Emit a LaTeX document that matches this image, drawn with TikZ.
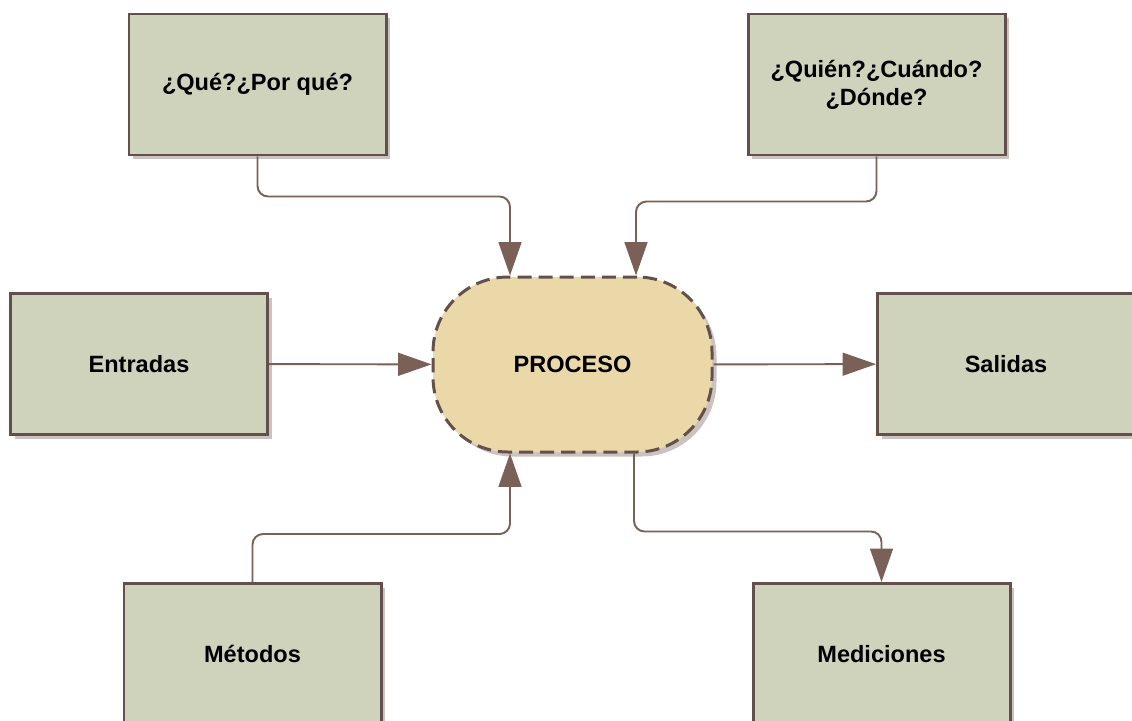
\documentclass[tikz,border=0pt]{standalone}
\usepackage{fontspec}
\setmainfont{Liberation Sans}
\usetikzlibrary{arrows.meta,shadows}
\definecolor{boxfill}{HTML}{D0D3BC}
\definecolor{boxline}{HTML}{64504A}
\definecolor{linkcol}{HTML}{7A6056}
\definecolor{procfill}{HTML}{EBD8A9}
\definecolor{shadowcol}{HTML}{CBC3BF}
\begin{document}
\begin{tikzpicture}[
  block/.style={rectangle,draw=boxline,fill=boxfill,line width=1.7pt,
                minimum width=5.14cm,minimum height=2.82cm,align=center,
                general shadow={fill=shadowcol,shadow xshift=0.08cm,shadow yshift=-0.08cm}},
  process/.style={rectangle,draw=boxline,fill=procfill,line width=1.7pt,
                  dash pattern=on 8pt off 4pt,rounded corners=1.5cm,
                  minimum width=5.58cm,minimum height=3.5cm,
                  general shadow={fill=shadowcol,shadow xshift=0.09cm,shadow yshift=-0.09cm}},
  link/.style={draw=linkcol,line width=1.1pt,rounded corners=6pt,
               -{Triangle[length=19pt,width=13pt]}},
  every node/.style={font=\fontsize{13.4}{15.9}\selectfont\bfseries}]
\path[use as bounding box] (0,0) rectangle (22.64,-14.4);
\node[block] (que) at (5.15,-1.69) {¿Qué?¿Por qué?};
\node[block] (quien) at (17.53,-1.69) {¿Quién?¿Cuándo?\\¿Dónde?};
\node[block] (ent) at (2.78,-7.28) {Entradas};
\node[block] (sal) at (20.12,-7.28) {Salidas};
\node[block] (met) at (5.05,-13.08) {Métodos};
\node[block] (med) at (17.63,-13.08) {Mediciones};
\node[process] (proc) at (11.45,-7.29) {PROCESO};
\draw[link] (que.south) -- ++(0,-0.8) -| ([xshift=-1.25cm]proc.north);
\draw[link] (quien.south) -- ++(0,-0.9) -| ([xshift=1.27cm]proc.north);
\draw[link] (ent) -- (proc);
\draw[link] (proc) -- (sal);
\draw[link] (met.north) -- ++(0,0.96) -| ([xshift=-1.25cm]proc.south);
\draw[link] ([xshift=1.23cm]proc.south) -- ++(0,-1.56) -| (med.north);
\end{tikzpicture}
\end{document}
